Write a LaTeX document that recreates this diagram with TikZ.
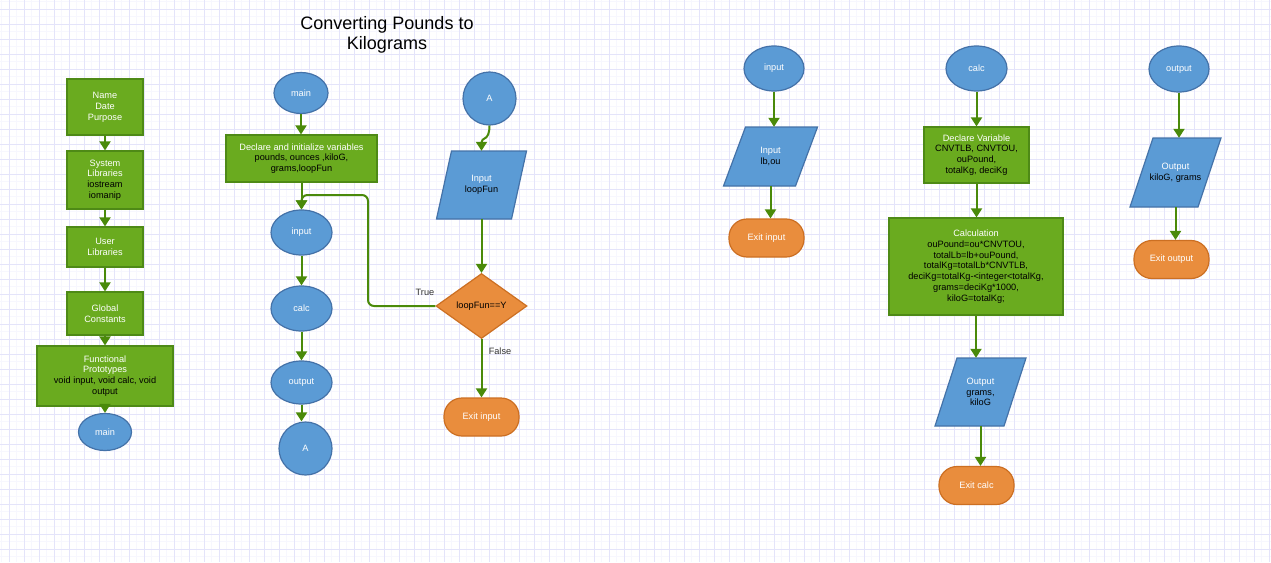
\documentclass[tikz,border=0pt]{standalone}
\usepackage{fontspec}
\setmainfont{Liberation Sans}
\usetikzlibrary{shapes.geometric,arrows.meta}
\definecolor{grn}{HTML}{6AAB1F}
\definecolor{grnd}{HTML}{4E8A16}
\definecolor{blu}{HTML}{5B9BD5}
\definecolor{blud}{HTML}{4472A8}
\definecolor{org}{HTML}{E98D3D}
\definecolor{orgd}{HTML}{CC6F22}
\definecolor{arrc}{HTML}{4A8A0A}
\definecolor{gridc}{HTML}{E4E4FA}
\definecolor{gridm}{HTML}{F7F7FE}
\definecolor{lblc}{HTML}{333333}
\newcommand\wt[1]{\textcolor{white}{#1}}
\newcommand\pgram[7]{%
 \filldraw[fill=blu, draw=blud, line width=1.2pt] ({#2-#4/2-#6/2},{#3+#5/2}) -- ({#2+#4/2-#6/2},{#3+#5/2}) -- ({#2+#4/2+#6/2},{#3-#5/2}) -- ({#2-#4/2+#6/2},{#3-#5/2}) -- cycle;
 \node[minimum width=#4pt, minimum height=#5pt] (#1) at (#2,#3) {#7};
}
\begin{document}
\begin{tikzpicture}[x=1pt,y=-1pt,
 every node/.style={font=\fontsize{9.2}{10.8}\selectfont, align=center, inner sep=0pt},
 procbox/.style={rectangle, fill=grn, draw=grnd, line width=1.2pt},
 oval/.style={ellipse, fill=blu, draw=blud, line width=1.2pt, text=white},
 aoval/.style={circle, fill=blu, draw=blud, line width=1.2pt, text=white, minimum size=53pt},
 term/.style={rectangle, rounded corners=18pt, fill=org, draw=orgd, line width=1.2pt, text=white, minimum width=75pt, minimum height=38pt},
 dia/.style={diamond, fill=org, draw=orgd, line width=1.2pt, minimum width=91pt, minimum height=65pt},
 arr/.style={draw=arrc, line width=2pt, -{Triangle[width=11pt,length=9pt]}},
 lbl/.style={text=lblc}
]
\useasboundingbox (0,0) rectangle (1271,562);
\fill[white] (0,0) rectangle (1271,562);
\begin{scope}
\clip (0,0) rectangle (1271,562);
\foreach \i in {0,...,85} \draw[gridm, line width=0.7pt] ({1.5+15*\i},0) -- ({1.5+15*\i},562);
\foreach \j in {0,...,38} \draw[gridm, line width=0.7pt] (0,{1.5+15*\j}) -- (1271,{1.5+15*\j});
\foreach \i in {0,...,85} \draw[gridc, line width=1pt] ({9+15*\i},0) -- ({9+15*\i},562);
\foreach \j in {0,...,38} \draw[gridc, line width=1pt] (0,{9+15*\j}) -- (1271,{9+15*\j});
\end{scope}

% left column
\node[procbox, minimum width=76pt, minimum height=56pt] (nm) at (105,107) {\wt{Name}\\\wt{Date}\\\wt{Purpose}};
\node[procbox, minimum width=76pt, minimum height=58pt] (sl) at (105,180) {\wt{System}\\\wt{Libraries}\\iostream\\iomanip};
\node[procbox, minimum width=76pt, minimum height=40pt] (ul) at (105,247) {\wt{User}\\\wt{Libraries}};
\node[procbox, minimum width=76pt, minimum height=43pt] (gc) at (105,313.5) {\wt{Global}\\\wt{Constants}};
\node[procbox, minimum width=136pt, minimum height=60pt] (fp) at (105,376) {\wt{Functional}\\\wt{Prototypes}\\void input, void calc, void\\output};
\node[oval, minimum width=53pt, minimum height=37pt] (m1) at (105,432) {main};
\draw[arr] (nm.south) -- (nm.south |- sl.north);
\draw[arr] (sl.south) -- (sl.south |- ul.north);
\draw[arr] (ul.south) -- (ul.south |- gc.north);
\draw[arr] (gc.south) -- (gc.south |- fp.north);
\draw[arr] (fp.south) -- (fp.south |- m1.north);

% title
\node[font=\fontsize{18}{19.5}\selectfont] (title) at (387,35) {Converting Pounds to\\Kilograms};

% middle column
\node[oval, minimum width=54pt, minimum height=41pt] (m2) at (301,93) {main};
\node[procbox, minimum width=151pt, minimum height=47pt] (dec) at (301.5,158.5) {\wt{Declare and initialize variables}\\pounds, ounces ,kiloG,\\grams,loopFun};
\node[oval, minimum width=61pt, minimum height=45pt] (inp) at (301.5,232.5) {input};
\node[oval, minimum width=61pt, minimum height=45pt] (cal1) at (301.5,308.5) {calc};
\node[oval, minimum width=61pt, minimum height=43pt] (out1) at (301.5,382.5) {output};
\node[aoval] (a2) at (305.5,448.5) {A};
\draw[arr] (m2.south) -- (m2.south |- dec.north);
\draw[arr] (dec.south) -- (dec.south |- inp.north);
\draw[arr] (inp.south) -- (inp.south |- cal1.north);
\draw[arr] (cal1.south) -- (cal1.south |- out1.north);
\draw[arr] (out1.south) -- (out1.south |- a2.north);

\node[aoval] (a1) at (489.5,98.5) {A};
\pgram{pin}{481.5}{185}{75}{68}{15}{\wt{Input}\\loopFun}
\node[dia] (dd) at (481.5,306) {loopFun==Y};
\node[term] (ex1) at (481.5,417) {Exit input};
\draw[arr] (a1.south) .. controls +(0,16) and +(0,-14) .. (pin.north);
\draw[arr] (pin.south) -- (pin.south |- dd.north);
\draw[arr] (dd.south) -- (dd.south |- ex1.north);
\coordinate (lp) at (368,195);
\draw[arr, rounded corners=6pt] (dd.west) -| (lp) -| (inp.north);
\node[lbl] (tl) at (425,292) {True};
\node[lbl] (fl) at (500,351) {False};

% input function
\node[oval, minimum width=60pt, minimum height=45pt] (ri) at (774,68.5) {input};
\pgram{rpi}{770.5}{156.5}{72}{59}{22}{\wt{Input}\\lb,ou}
\node[term] (ex2) at (766.5,238) {Exit input};
\draw[arr] (ri.south) -- (ri.south |- rpi.north);
\draw[arr] (rpi.south) -- (rpi.south |- ex2.north);

% calc function
\node[oval, minimum width=61pt, minimum height=45pt] (rc) at (976.5,68.5) {calc};
\node[procbox, minimum width=105pt, minimum height=56pt] (dv) at (976.5,155) {\wt{Declare Variable}\\CNVTLB, CNVTOU,\\ouPound,\\totalKg, deciKg};
\node[procbox, minimum width=174pt, minimum height=97pt] (cl) at (976,266.5) {\wt{Calculation}\\ouPound=ou*CNVTOU,\\totalLb=lb+ouPound,\\totalKg=totalLb*CNVTLB,\\deciKg=totalKg-<integer<totalKg,\\grams=deciKg*1000,\\kiloG=totalKg;};
\pgram{po}{980.5}{392}{69}{68}{22}{\wt{Output}\\grams,\\kiloG}
\node[term] (ex3) at (976.5,485.5) {Exit calc};
\draw[arr] (rc.south) -- (rc.south |- dv.north);
\draw[arr] (dv.south) -- (dv.south |- cl.north);
\draw[arr] (cl.south) -- (cl.south |- po.north);
\draw[arr] (po.south) -- (po.south |- ex3.north);

% output function
\node[oval, minimum width=60pt, minimum height=46pt] (ro) at (1179,69) {output};
\pgram{pro}{1175.5}{172.5}{68}{69}{23}{\wt{Output}\\kiloG, grams}
\node[term] (ex4) at (1171.5,259.5) {Exit output};
\draw[arr] (ro.south) -- (ro.south |- pro.north);
\draw[arr] (pro.south) -- (pro.south |- ex4.north);
\end{tikzpicture}
\end{document}
